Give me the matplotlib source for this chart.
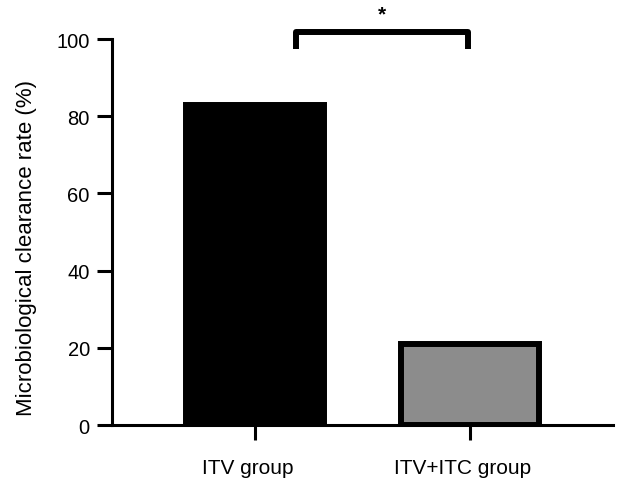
import matplotlib.pyplot as plt
import matplotlib.transforms as mtransforms

plt.rcParams['font.family'] = ['Liberation Sans', 'DejaVu Sans']

groups = ['ITV group', 'ITV+ITC group']
clearance_rate = [82.8, 21.0]
bar_colors = ['#000000', '#8c8c8c']
y_ticks = [0, 20, 40, 60, 80, 100]

# significance bracket between the two groups
bracket_x = [0.19, 0.99]
bracket_y = [97.3, 101.9]
sig_label = '*'

fig = plt.figure(figsize=(6.17, 4.81), dpi=100)
ax = fig.add_axes([0.1815, 0.1143, 0.812, 0.8025])

x = range(len(groups))
ax.bar(x, clearance_rate, width=0.64, color=bar_colors,
       edgecolor='black', linewidth=4.3, zorder=2)

ax.set_xlim(-0.665, 1.665)
ax.set_ylim(0, 100)
ax.set_yticks(y_ticks)
ax.set_xticks(list(x))
ax.set_xticklabels(groups)

for side in ['top', 'right']:
    ax.spines[side].set_visible(False)
for side in ['left', 'bottom']:
    ax.spines[side].set_linewidth(2.2)

ax.tick_params(axis='y', length=11, width=2.2, labelsize=14.5, pad=5)
ax.tick_params(axis='x', length=11, width=2.2, labelsize=15, pad=12.5)

# labels in the original sit a little left of their ticks
shift = mtransforms.ScaledTranslation(-7 / 100, 0, fig.dpi_scale_trans)
for lbl in ax.get_xticklabels():
    lbl.set_transform(lbl.get_transform() + shift)

ax.set_ylabel('Microbiological clearance rate (%)', fontsize=16)
ax.yaxis.set_label_coords(-0.15, 0.46)

bx0, bx1 = bracket_x
by0, by1 = bracket_y
ax.plot([bx0, bx0, bx1, bx1], [by0, by1, by1, by0], color='black',
        linewidth=4.3, solid_joinstyle='round', solid_capstyle='butt',
        clip_on=False)
ax.text((bx0 + bx1) / 2, by1 + 4.5, sig_label, ha='center', va='center',
        fontsize=15, fontweight='bold', clip_on=False)

fig.savefig('out.png', dpi=100)
